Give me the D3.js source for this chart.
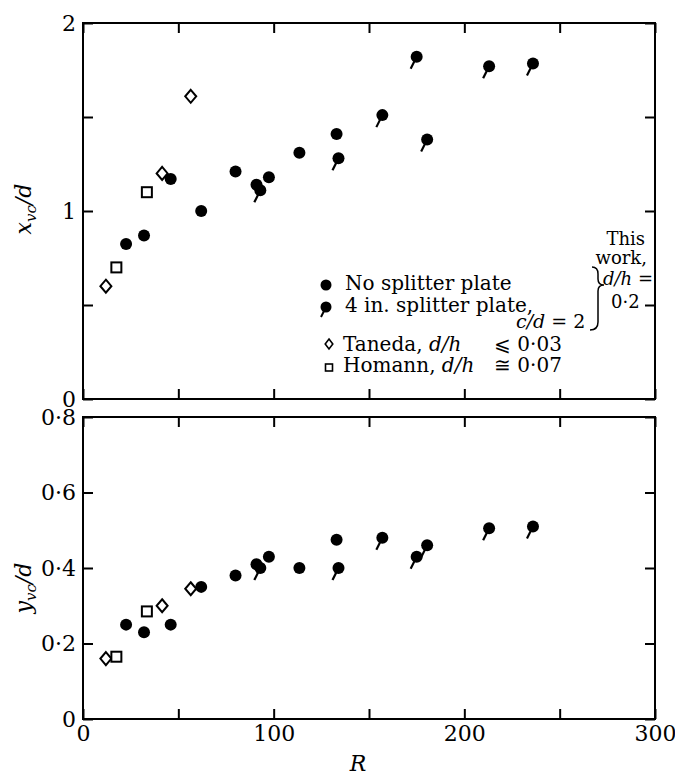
<!DOCTYPE html>
<html>
<head>
<meta charset="utf-8">
<script src="https://cdn.jsdelivr.net/npm/d3@7"></script>
<style>
  body { margin: 0; background: #fff; }
  text { font-family: "DejaVu Serif", serif; fill: #000; }
</style>
</head>
<body>
<div id="chart"></div>
<script>
// ---- data ----
var noPlateR   = [22.6, 32, 46, 62, 80, 91, 97.5, 113.5, 133];
var noPlateX   = [0.825, 0.87, 1.17, 1.0, 1.21, 1.14, 1.18, 1.31, 1.41];
var noPlateY   = [0.25, 0.23, 0.25, 0.35, 0.38, 0.41, 0.43, 0.40, 0.475];

var splitterR  = [93, 134, 157, 175, 180.5, 213, 236];
var splitterX  = [1.11, 1.28, 1.51, 1.82, 1.38, 1.77, 1.785];
var splitterY  = [0.40, 0.40, 0.48, 0.43, 0.46, 0.505, 0.51];

var tanedaR    = [12, 41.5, 56.5];
var tanedaX    = [0.6, 1.2, 1.61];
var tanedaY    = [0.16, 0.30, 0.345];

var homannR    = [17.5, 33.5];
var homannX    = [0.70, 1.10];
var homannY    = [0.165, 0.285];

var xTicks     = [0, 50, 100, 150, 200, 250, 300];
var xLabels    = {0: "0", 100: "100", 200: "200", 300: "300"};
var topTicks   = [0, 0.5, 1, 1.5, 2];
var topLabels  = {0: "0", 1: "1", 2: "2"};
var botTicks   = [0, 0.2, 0.4, 0.6, 0.8];
var botLabels  = {0: "0", 0.2: "0·2", 0.4: "0·4", 0.6: "0·6", 0.8: "0·8"};

// ---- layout ----
var width = 675, height = 778;
var left = 83, right = 655;
var top1 = 23, bot1 = 399;
var top2 = 417, bot2 = 719;
var serif = "'DejaVu Serif', serif";

var svg = d3.select("#chart").append("svg")
  .attr("width", width).attr("height", height);

var xScale = d3.scaleLinear().domain([0, 300]).range([left, right]);
var yTop = d3.scaleLinear().domain([0, 2]).range([bot1, top1]);
var yBot = d3.scaleLinear().domain([0, 0.8]).range([bot2, top2]);

function zip(a, b) { return a.map(function(v, i) { return [v, b[i]]; }); }

function panel(yScale, yt, ylab, yTop0, yBot0, showX) {
  var tick = 10;
  // frame
  svg.append("rect")
    .attr("x", left).attr("y", yTop0)
    .attr("width", right - left).attr("height", yBot0 - yTop0)
    .attr("fill", "none").attr("stroke", "#000").attr("stroke-width", 2);

  var gl = svg.append("g").attr("transform", "translate(" + left + ",0)")
    .call(d3.axisLeft(yScale).tickValues(yt).tickSize(-tick).tickPadding(7)
      .tickFormat(function(d) { return ylab[d] || ""; }));
  var gr = svg.append("g").attr("transform", "translate(" + right + ",0)")
    .call(d3.axisRight(yScale).tickValues(yt).tickSize(-tick).tickFormat(""));
  var gt = svg.append("g").attr("transform", "translate(0," + yTop0 + ")")
    .call(d3.axisTop(xScale).tickValues(xTicks).tickSize(-tick).tickFormat(""));
  var gb = svg.append("g").attr("transform", "translate(0," + yBot0 + ")")
    .call(d3.axisBottom(xScale).tickValues(xTicks).tickSize(-tick).tickPadding(6)
      .tickFormat(function(d) { return showX ? (xLabels[d] || "") : ""; }));

  [gl, gr, gt, gb].forEach(function(g) {
    g.attr("font-family", serif).attr("font-size", 22);
    g.select(".domain").remove();
    g.selectAll("line").attr("stroke", "#000").attr("stroke-width", 2);
    g.selectAll("text").style("font-family", serif)
      .style("font-size", "22px").attr("fill", "#000");
  });
}

panel(yTop, topTicks, topLabels, top1, bot1, false);
panel(yBot, botTicks, botLabels, top2, bot2, true);

// ---- markers ----
function drawFilled(g, pts, ys) {
  g.selectAll(null).data(pts).enter().append("circle")
    .attr("cx", function(d) { return xScale(d[0]); })
    .attr("cy", function(d) { return ys(d[1]); })
    .attr("r", 6).attr("fill", "#000");
}
function drawTailed(g, pts, ys) {
  var m = g.selectAll(null).data(pts).enter().append("g")
    .attr("transform", function(d) { return "translate(" + xScale(d[0]) + "," + ys(d[1]) + ")"; });
  m.append("circle").attr("r", 6).attr("fill", "#000");
  m.append("line").attr("x1", -2).attr("y1", 4).attr("x2", -6).attr("y2", 12)
    .attr("stroke", "#000").attr("stroke-width", 2.2);
}
function drawDiamond(g, pts, ys, w, h) {
  g.selectAll(null).data(pts).enter().append("path")
    .attr("transform", function(d) { return "translate(" + xScale(d[0]) + "," + ys(d[1]) + ")"; })
    .attr("d", "M0," + (-h) + "L" + w + ",0L0," + h + "L" + (-w) + ",0Z")
    .attr("fill", "#fff").attr("stroke", "#000").attr("stroke-width", 2);
}
function drawSquare(g, pts, ys, s) {
  g.selectAll(null).data(pts).enter().append("rect")
    .attr("x", function(d) { return xScale(d[0]) - s; })
    .attr("y", function(d) { return ys(d[1]) - s; })
    .attr("width", 2 * s).attr("height", 2 * s)
    .attr("fill", "#fff").attr("stroke", "#000").attr("stroke-width", 2);
}

var g1 = svg.append("g"), g2 = svg.append("g");
drawFilled(g1, zip(noPlateR, noPlateX), yTop);
drawTailed(g1, zip(splitterR, splitterX), yTop);
drawDiamond(g1, zip(tanedaR, tanedaX), yTop, 5.5, 6.5);
drawSquare(g1, zip(homannR, homannX), yTop, 5);

drawFilled(g2, zip(noPlateR, noPlateY), yBot);
drawTailed(g2, zip(splitterR, splitterY), yBot);
drawDiamond(g2, zip(tanedaR, tanedaY), yBot, 5.5, 6.5);
drawSquare(g2, zip(homannR, homannY), yBot, 5);

// ---- axis titles ----
function yTitle(cx, cy, letter) {
  var t = svg.append("text")
    .attr("transform", "translate(" + cx + "," + cy + ") rotate(-90)")
    .attr("text-anchor", "middle").style("font-size", "22px").style("font-style", "italic");
  t.append("tspan").text(letter);
  t.append("tspan").text("vc").attr("dy", 5).style("font-size", "15px");
  t.append("tspan").text("/d").attr("dy", -5);
}
yTitle(31, 209, "x");
yTitle(31, 588, "y");

svg.append("text").attr("x", 358).attr("y", 771).attr("text-anchor", "middle")
  .style("font-size", "22px").style("font-style", "italic").text("R");

// ---- legend ----
var lg = svg.append("g");
var legendFs = "20px";
lg.append("circle").attr("cx", 326).attr("cy", 285).attr("r", 5.5).attr("fill", "#000");
lg.append("text").attr("x", 345).attr("y", 290).style("font-size", legendFs).text("No splitter plate");

var tl = lg.append("g").attr("transform", "translate(326,307)");
tl.append("circle").attr("r", 5.5).attr("fill", "#000");
tl.append("line").attr("x1", -2).attr("y1", 4).attr("x2", -5).attr("y2", 10)
  .attr("stroke", "#000").attr("stroke-width", 2);
lg.append("text").attr("x", 345).attr("y", 312).style("font-size", legendFs).text("4 in. splitter plate,");

var cd = lg.append("text").attr("x", 516).attr("y", 328).style("font-size", "19px");
cd.append("tspan").text("c/d").style("font-style", "italic");
cd.append("tspan").text(" = 2");

lg.append("path")
  .attr("d", "M592,267 Q598,267 598,274 L598,279 Q598,285 604,285 Q598,285 598,291 L598,322 Q598,330 590,330")
  .attr("fill", "none").attr("stroke", "#000").attr("stroke-width", 1.5);

var small = "18px";
lg.append("text").attr("x", 645).attr("y", 245).attr("text-anchor", "end").style("font-size", small).text("This");
lg.append("text").attr("x", 647).attr("y", 264).attr("text-anchor", "end").style("font-size", small).text("work,");
var dh = lg.append("text").attr("x", 603).attr("y", 285).style("font-size", small);
dh.append("tspan").text("d/h").style("font-style", "italic");
dh.append("tspan").text(" =");
lg.append("text").attr("x", 611).attr("y", 308).style("font-size", small).text("0·2");

lg.append("path").attr("transform", "translate(329,344)")
  .attr("d", "M0,-5L3.8,0L0,5L-3.8,0Z")
  .attr("fill", "#fff").attr("stroke", "#000").attr("stroke-width", 1.6);
var tn = lg.append("text").attr("x", 343).attr("y", 351).style("font-size", legendFs);
tn.append("tspan").text("Taneda, ");
tn.append("tspan").text("d/h").style("font-style", "italic");
lg.append("text").attr("x", 494).attr("y", 351).style("font-size", legendFs).text("⩽ 0·03");

lg.append("rect").attr("x", 325.5).attr("y", 364).attr("width", 7).attr("height", 7)
  .attr("fill", "#fff").attr("stroke", "#000").attr("stroke-width", 1.6);
var hm = lg.append("text").attr("x", 343).attr("y", 372).style("font-size", legendFs);
hm.append("tspan").text("Homann, ");
hm.append("tspan").text("d/h").style("font-style", "italic");
lg.append("text").attr("x", 494).attr("y", 372).style("font-size", legendFs).text("≅ 0·07");
</script>
</body>
</html>
